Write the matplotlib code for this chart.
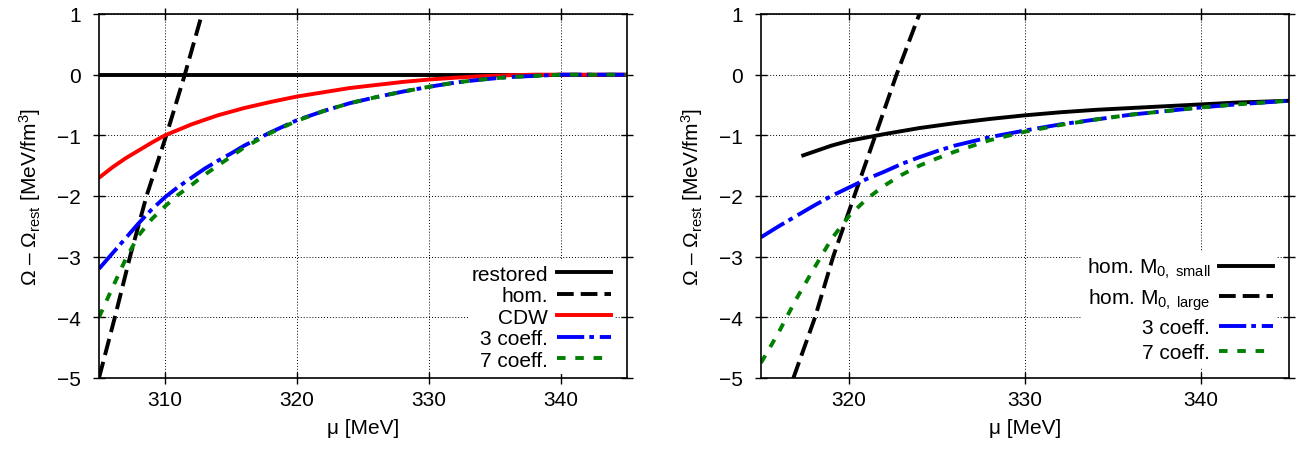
import matplotlib
matplotlib.use("Agg")
import matplotlib.pyplot as plt

plt.rcParams["font.family"] = ["Liberation Sans", "DejaVu Sans"]
plt.rcParams["mathtext.fontset"] = "custom"
plt.rcParams["mathtext.rm"] = "Liberation Sans"
plt.rcParams["mathtext.it"] = "Liberation Sans:italic"
plt.rcParams["font.size"] = 15

# ---- left panel data ----
restored_mu = [305, 345]
restored_om = [0, 0]

hom_mu = [305.0, 306.2, 307.35, 308.6, 310.1, 311.5, 312.8]
hom_om = [-5, -4, -3, -2, -1, 0, 1]

cdw_mu = [305, 306, 307, 308, 309, 310, 312, 314, 316, 318, 320, 322, 324, 326,
          328, 330, 332, 334, 336, 338, 345]
cdw_om = [-1.70, -1.53, -1.38, -1.25, -1.12, -1.00, -0.82, -0.67, -0.55, -0.45,
          -0.36, -0.29, -0.22, -0.17, -0.12, -0.08, -0.05, -0.025, -0.01, 0.0, 0.0]

c3_mu = [305, 306, 307, 308, 309, 310, 311, 312, 313, 314, 315, 316, 318, 320,
         322, 324, 326, 328, 330, 332, 334, 336, 338, 340, 345]
c3_om = [-3.20, -2.95, -2.70, -2.45, -2.22, -2.02, -1.85, -1.70, -1.55, -1.42,
         -1.30, -1.17, -0.95, -0.75, -0.60, -0.47, -0.37, -0.28, -0.20, -0.13,
         -0.08, -0.04, -0.02, 0.0, 0.0]

c7_mu = [305, 306, 307, 308, 309, 310, 311, 312, 313, 314, 315, 316, 318, 320,
         322, 324, 326, 328, 330, 332, 334, 336, 338, 340, 345]
c7_om = [-4.00, -3.52, -3.05, -2.65, -2.38, -2.17, -1.98, -1.82, -1.65, -1.50,
         -1.35, -1.20, -0.96, -0.76, -0.60, -0.47, -0.37, -0.28, -0.20, -0.13,
         -0.08, -0.04, -0.02, 0.0, 0.0]

# ---- right panel data ----
small_mu = [317.4, 318, 319, 320, 322, 324, 326, 328, 330, 332, 334, 336, 338,
            340, 342, 345]
small_om = [-1.33, -1.27, -1.17, -1.09, -0.98, -0.88, -0.80, -0.73, -0.67, -0.62,
            -0.58, -0.55, -0.52, -0.49, -0.46, -0.43]

large_mu = [316.84, 318.07, 319.1, 320.3, 321.5, 322.7, 324.0]
large_om = [-5, -4, -3, -2, -1, 0, 1]

r3_mu = [315, 316, 317, 318, 319, 320, 321, 322, 323, 324, 325, 326, 328, 330,
         332, 334, 336, 338, 340, 342, 345]
r3_om = [-2.68, -2.50, -2.33, -2.16, -2.00, -1.86, -1.72, -1.60, -1.47, -1.36,
         -1.26, -1.17, -1.03, -0.92, -0.82, -0.74, -0.66, -0.60, -0.54, -0.49, -0.43]

r7_mu = [315, 316, 317, 318, 319, 320, 321, 322, 323, 324, 325, 326, 328, 330,
         332, 334, 336, 338, 340, 342, 345]
r7_om = [-4.75, -4.25, -3.70, -3.20, -2.71, -2.33, -2.05, -1.83, -1.65, -1.50,
         -1.38, -1.27, -1.08, -0.94, -0.83, -0.74, -0.66, -0.60, -0.54, -0.49, -0.43]

LW = 2.8
DASH = (4.3, 1.8)
DASHDOT = (7.0, 1.3, 1.2, 1.5)
DOTS = (2.2, 2.5)
ylabel = r"$\Omega$ – $\Omega_{\mathrm{rest}}$ [MeV/fm$^3$]"

fig = plt.figure(figsize=(13.14, 4.56), dpi=100)
ax1 = fig.add_axes([99 / 1314, 77 / 456, 528 / 1314, 364 / 456])
ax2 = fig.add_axes([761 / 1314, 77 / 456, 528 / 1314, 364 / 456])


def style(ax, xlim, xticks):
    ax.set_xlim(*xlim)
    ax.set_ylim(-5, 1)
    ax.set_xticks(xticks)
    ax.set_yticks(range(-5, 2))
    ax.grid(True, color="black", linestyle=(0, (1, 2)), linewidth=0.7)
    ax.set_axisbelow(True)
    ax.tick_params(direction="inout", top=True, right=True, length=8, width=1)
    ax.tick_params(axis="x", pad=5)
    ax.tick_params(axis="y", pad=9)
    for s in ax.spines.values():
        s.set_linewidth(1.2)
    ax.set_xlabel("μ [MeV]", labelpad=6)
    ax.set_ylabel(ylabel, labelpad=10)


ax1.plot(restored_mu, restored_om, color="black", lw=LW, label="restored")
ax1.plot(hom_mu, hom_om, color="black", lw=LW, dashes=DASH, label="hom.")
ax1.plot(cdw_mu, cdw_om, color="red", lw=LW, label="CDW")
ax1.plot(c3_mu, c3_om, color="blue", lw=LW, dashes=DASHDOT, label="3 coeff.")
ax1.plot(c7_mu, c7_om, color="green", lw=LW, dashes=DOTS, label="7 coeff.")
style(ax1, (305, 345), [310, 320, 330, 340])

ax2.plot(small_mu, small_om, color="black", lw=LW, label=r"hom. M$_{0,\ \mathrm{small}}$")
ax2.plot(large_mu, large_om, color="black", lw=LW, dashes=DASH,
         label=r"hom. M$_{0,\ \mathrm{large}}$")
ax2.plot(r3_mu, r3_om, color="blue", lw=LW, dashes=DASHDOT, label="3 coeff.")
ax2.plot(r7_mu, r7_om, color="green", lw=LW, dashes=DOTS, label="7 coeff.")
style(ax2, (315, 345), [320, 330, 340])

for ax, anchor, sp in ((ax1, (0.985, 0.0), 0.12), (ax2, (0.985, 0.02), 0.3)):
    leg = ax.legend(loc="lower right", bbox_to_anchor=anchor, markerfirst=False,
                    frameon=True, fancybox=False, framealpha=1, edgecolor="none",
                    handlelength=2.6, handletextpad=0.4, labelspacing=sp,
                    borderpad=0.2, borderaxespad=0.2)
    leg.set_zorder(2)
    for t in leg.get_texts():
        t.set_ha("right")
    leg._legend_box.align = "right"
    for vp in leg._legend_handle_box.get_children():
        vp.align = "right"

fig.savefig("out.png", dpi=100)
